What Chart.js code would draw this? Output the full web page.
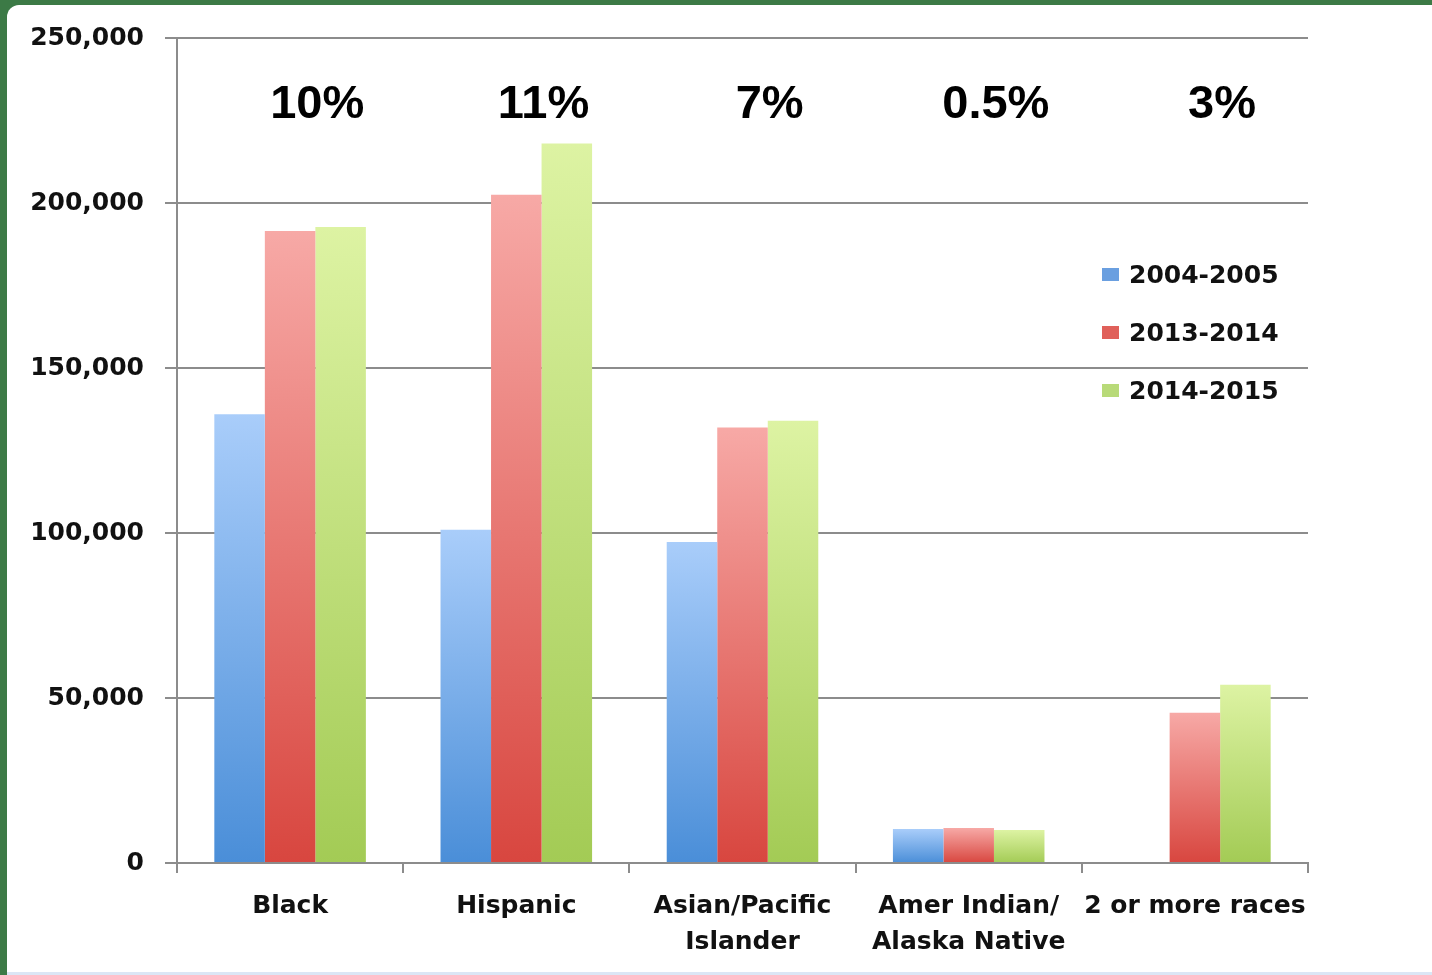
<!DOCTYPE html>
<html>
<head>
<meta charset="utf-8">
<script src="https://cdn.jsdelivr.net/npm/chart.js@4.4.1/dist/chart.umd.min.js"></script>
<style>
  html, body { margin: 0; padding: 0; }
  body { width: 1432px; height: 975px; background: #3c7a46; position: relative; overflow: hidden; }
  #panel {
    position: absolute; left: 7px; top: 5px; width: 1425px; height: 967px;
    background: #ffffff; border-top-left-radius: 12px;
    border-bottom: 3px solid #dbe6f5;
  }
  #chart { position: absolute; left: 0; top: 0; }
</style>
</head>
<body>
<div id="panel"><canvas id="chart" width="1425" height="967"></canvas></div>
<script>
// categories and series
const categories = ['Black', 'Hispanic', ['Asian/Pacific', 'Islander'], ['Amer Indian/', 'Alaska Native'], '2 or more races'];
const seriesLabels = ['2004-2005', '2013-2014', '2014-2015'];
const values2004 = [136000, 101000, 97300, 10300, null];
const values2013 = [191500, 202500, 132000, 10600, 45500];
const values2014 = [192700, 218000, 134000, 10000, 54000];
const percentLabels = ['10%', '11%', '7%', '0.5%', '3%'];
const yTicks = [0, 50000, 100000, 150000, 200000, 250000];

// top / bottom colour of each bar gradient
const barColors = [
    ['#a9cdfa', '#4a8ed8'],
    ['#f7a9a6', '#d8463f'],
    ['#ddf3a3', '#a3cb55']
];
const legendColors = ['#6a9fe0', '#e0605a', '#b8da78'];

function barGradient(ctx, idx){
    const chart = ctx.chart;
    const area = chart.chartArea;
    if (!area || ctx.raw == null) {
        return barColors[idx][1];
    }
    const y = chart.scales.y;
    const top = y.getPixelForValue(ctx.raw);
    const bottom = y.getPixelForValue(0);
    if (!isFinite(top) || bottom - top < 1) {
        return barColors[idx][1];
    }
    const g = chart.ctx.createLinearGradient(0, top, 0, bottom);
    g.addColorStop(0, barColors[idx][0]);
    g.addColorStop(1, barColors[idx][1]);
    return g;
}

const axisFamily = '"DejaVu Sans"';

//Percent labels above each group
const percentPlugin = {
    id: 'percentLabels',
    afterDraw(chart){
        const c = chart.ctx;
        const x = chart.scales.x;
        const step = (chart.chartArea.right - chart.chartArea.left) / categories.length;
        c.save();
        c.font = 'bold 47px "Liberation Sans", Arial, sans-serif';
        c.fillStyle = '#000';
        c.textAlign = 'center';
        c.textBaseline = 'middle';
        percentLabels.forEach((t, i) => {
            c.fillText(t, x.getPixelForValue(i) + step * 0.12, chart.chartArea.top + 67);
        });
        c.restore();
    }
};

//Legend inside the plot on the right
const legendPlugin = {
    id: 'insideLegend',
    afterDraw(chart){
        const c = chart.ctx;
        const area = chart.chartArea;
        c.save();
        c.font = 'bold 25px ' + axisFamily + ', sans-serif';
        c.textBaseline = 'middle';
        c.textAlign = 'left';
        chart.data.datasets.forEach((ds, i) => {
            const cy = area.top + 237 + i * 58;
            const sx = area.right - 206;
            c.fillStyle = legendColors[i];
            c.fillRect(sx, cy - 7, 17, 13);
            c.fillStyle = '#111';
            c.fillText(ds.label, sx + 27, cy + 1);
        });
        c.restore();
    }
};

Chart.defaults.font.family = axisFamily;
const ctx = document.getElementById('chart').getContext('2d');

new Chart(ctx, {
    type: 'bar',
    data: {
        labels: categories,
        datasets: [
            { label: seriesLabels[0], data: values2004, backgroundColor: c => barGradient(c, 0) },
            { label: seriesLabels[1], data: values2013, backgroundColor: c => barGradient(c, 1) },
            { label: seriesLabels[2], data: values2014, backgroundColor: c => barGradient(c, 2) }
        ]
    },
    options: {
        responsive: false,
        animation: false,
        layout: { padding: { left: 0, right: 124, top: 33, bottom: 0 } },
        datasets: {
            bar: { categoryPercentage: 0.67, barPercentage: 1.0, borderWidth: 0 }
        },
        scales: {
            x: {
                grid: { display: true, drawOnChartArea: false, drawTicks: true, tickLength: 10, color: '#8c8c8c', lineWidth: 2, offset: true },
                border: { display: true, color: '#8c8c8c', width: 2 },
                ticks: { font: { family: axisFamily, weight: 'bold', size: 25, lineHeight: 1.42 }, color: '#111', padding: 16, maxRotation: 0, autoSkip: false },
                afterFit(scale){
                    scale.height = 109;
                    scale.paddingLeft = 0;
                    scale.paddingRight = 0;
                }
            },
            y: {
                min: 0,
                max: 250000,
                afterBuildTicks(scale){ scale.ticks = yTicks.map(v => ({ value: v })); },
                grid: { color: '#8c8c8c', lineWidth: 2, tickLength: 12 },
                border: { display: true, color: '#8c8c8c', width: 2 },
                ticks: {
                    font: { family: axisFamily, weight: 'bold', size: 25 },
                    color: '#111',
                    padding: 21,
                    callback: v => v.toLocaleString('en-US')
                },
                afterFit(scale){
                    scale.width = 170;
                    scale.paddingTop = 0;
                    scale.paddingBottom = 0;
                }
            }
        },
        plugins: {
            legend: { display: false },
            tooltip: { enabled: false }
        }
    },
    plugins: [percentPlugin, legendPlugin]
});
</script>
</body>
</html>
